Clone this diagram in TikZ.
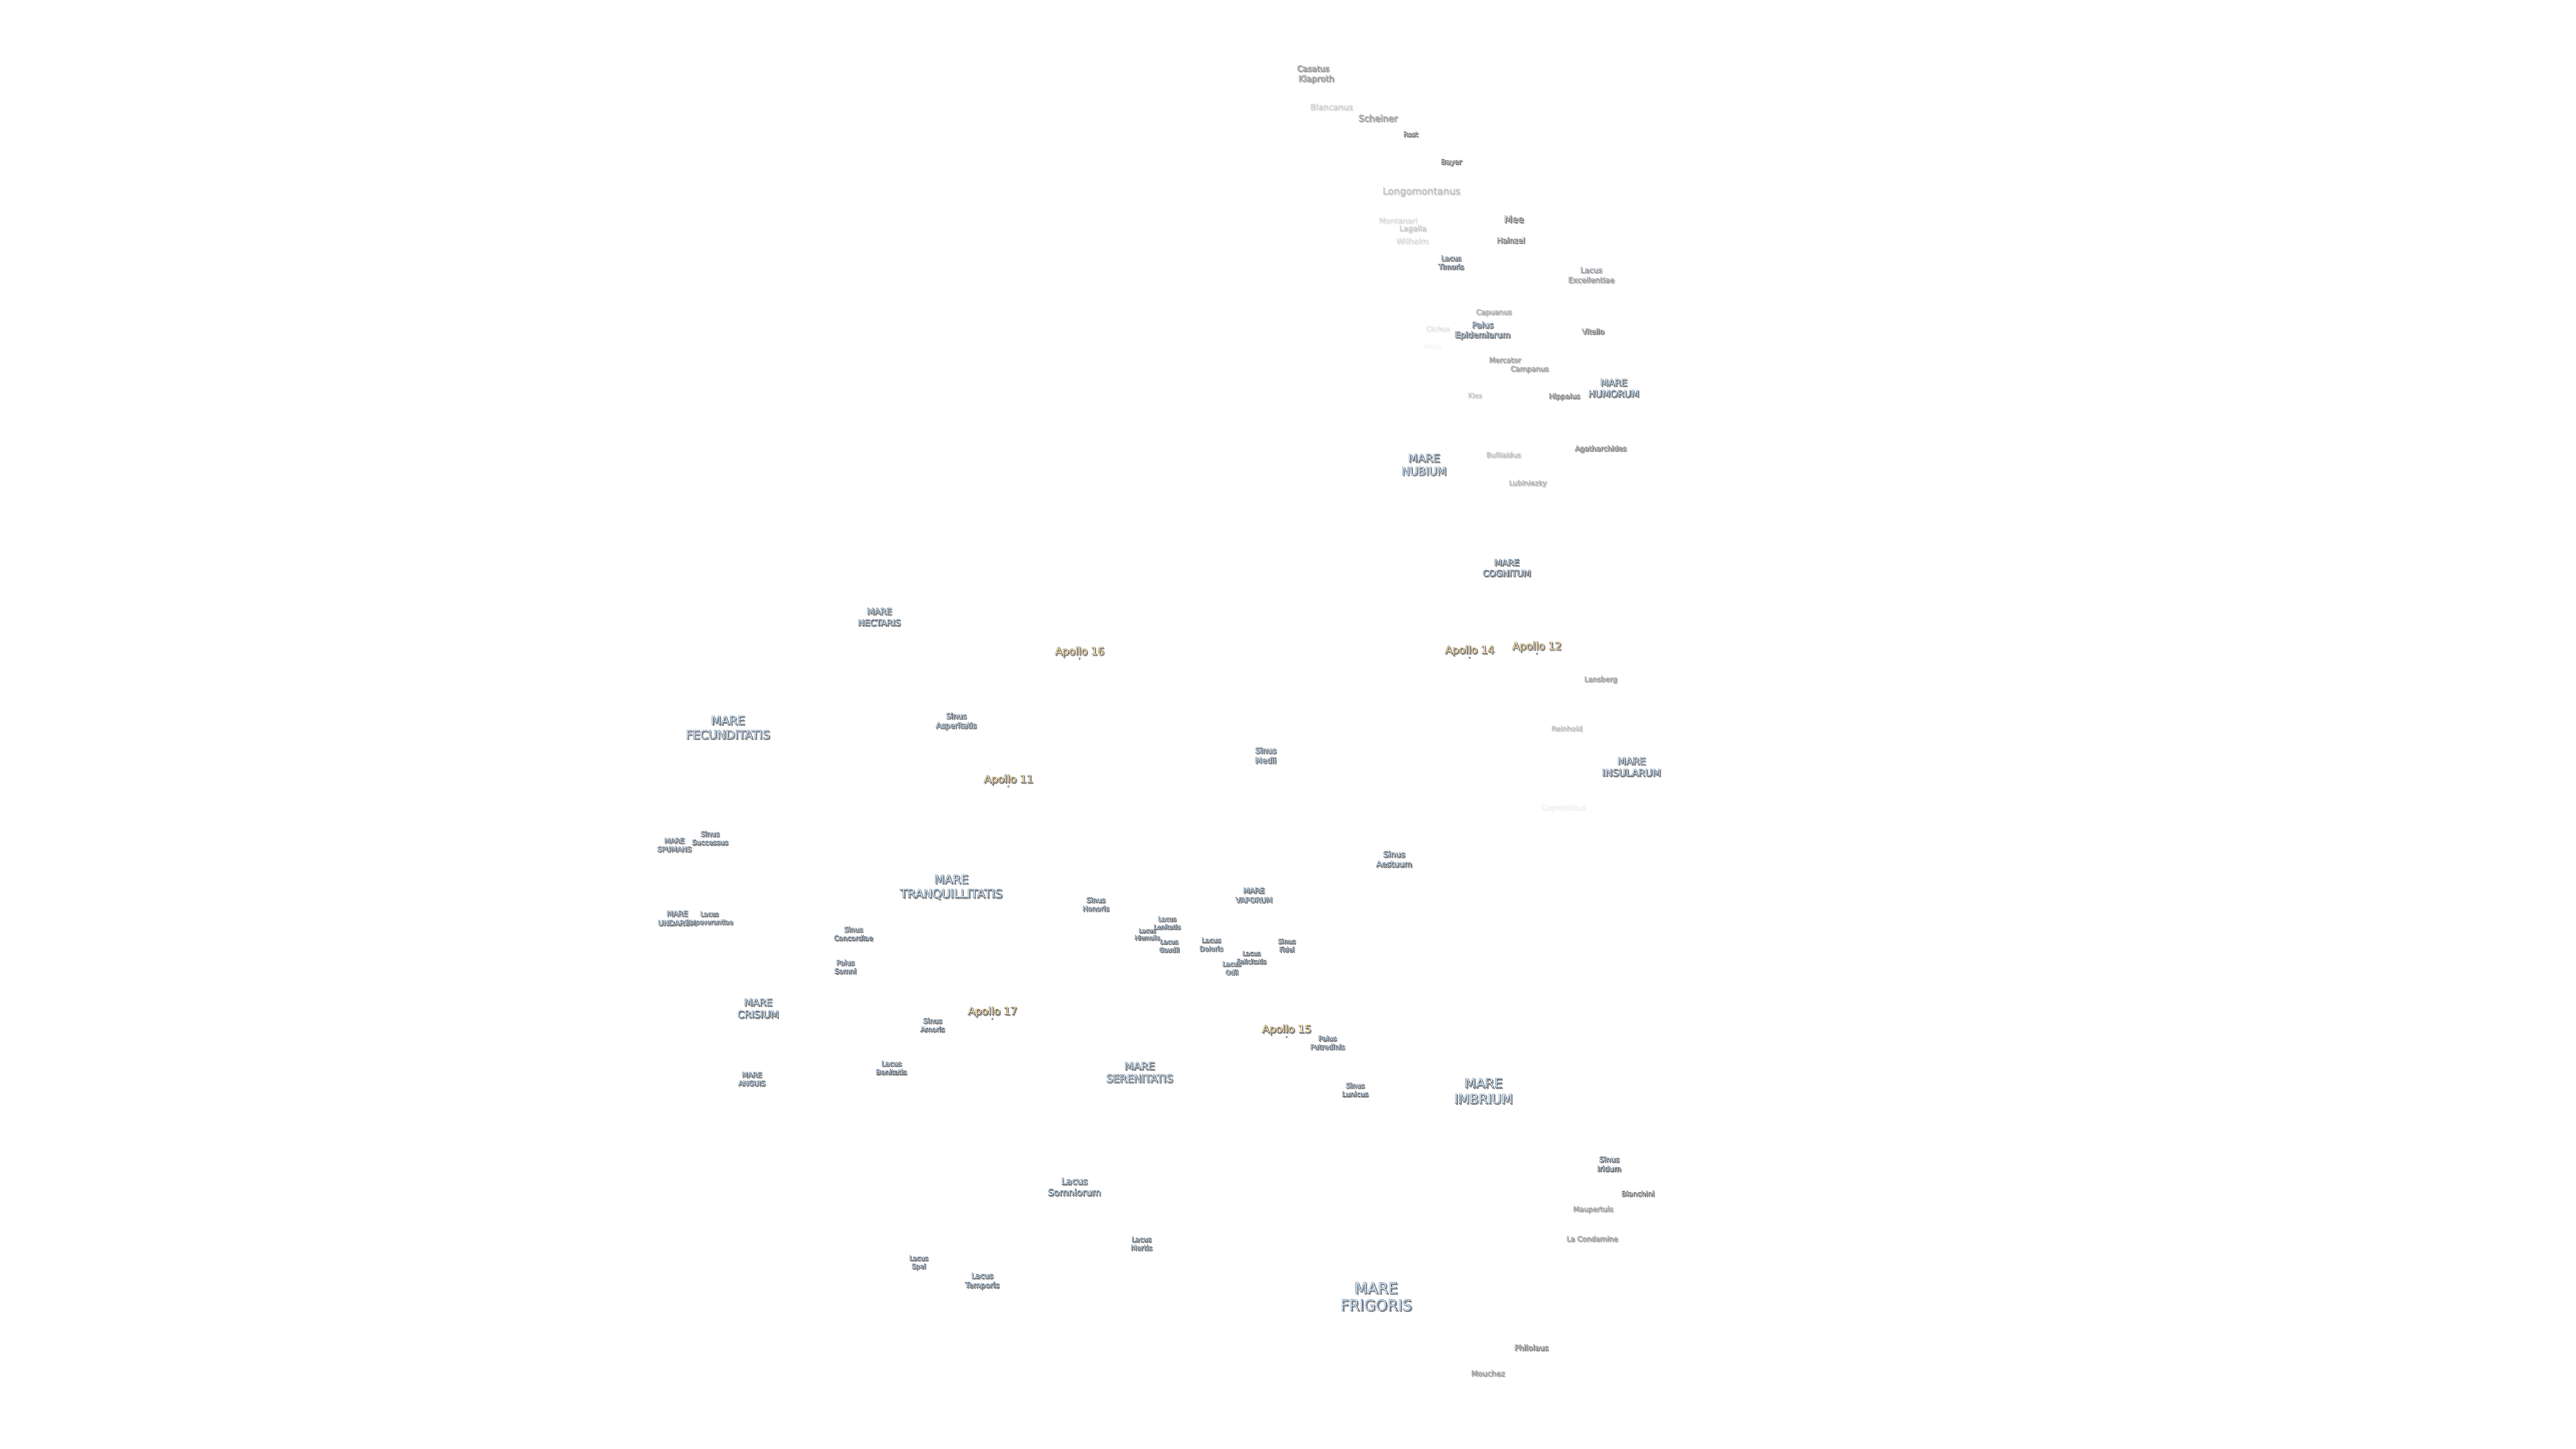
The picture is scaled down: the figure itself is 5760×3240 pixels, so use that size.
\documentclass[tikz,border=0pt]{standalone}
\usepackage{fontspec}
\setmainfont{DejaVu Sans}
\definecolor{marefill}{HTML}{C3DDF7}
\definecolor{apollofill}{HTML}{F7DCA6}
\definecolor{craterfill}{HTML}{F2F2F2}
\colorlet{lblfill}{marefill}
% one line of a label: an offset shade and a dark rim under the clean face
\newcommand\tl[1]{\leavevmode\rlap{\raisebox{-2.2pt}{\hbox{\kern2.2pt\textcolor{black!44}{\special{pdf:code 2 Tr 1.3 w}#1\special{pdf:code 0 Tr}}}}}\rlap{\textcolor{black!60}{\special{pdf:code 2 Tr 1.15 w}#1\special{pdf:code 0 Tr}}}\hbox{\textcolor{lblfill}{#1}}}
\tikzset{
  lbl/.style={inner sep=0pt,outer sep=0pt,align=center,text=black},
  sz/.style 2 args={font=\fontsize{#1}{#2}\selectfont},
  mare/.style={lbl,execute at begin node={\colorlet{lblfill}{marefill}}},
  apollo/.style={lbl,sz={23.5}{29},execute at begin node={\colorlet{lblfill}{apollofill}}},
  crater/.style={lbl,sz={16}{20},execute at begin node={\colorlet{lblfill}{craterfill}}},
  apdot/.style={circle,inner sep=0pt,minimum size=4pt,fill=apollofill,draw=black!65,line width=.8pt},
}
\begin{document}
\begin{tikzpicture}[x=1pt,y=-1pt]
\useasboundingbox (0,0) rectangle (5760,3240);
% far-side craters and small features at the upper right
\node[crater,sz={18}{22},opacity=.5] (casatus) at (2936,154) {\tl{Casatus}};
\node[crater,sz={19}{23},opacity=.5] (klaproth) at (2943,178) {\tl{Klaproth}};
\node[crater,sz={18.5}{23},opacity=.15] (blancanus) at (2977,240) {\tl{Blancanus}};
\node[crater,sz={20}{25},opacity=.45] (scheiner) at (3081,265) {\tl{Scheiner}};
\node[crater,sz={15}{19},opacity=.85] (rost) at (3154,301) {\tl{Rost}};
\node[crater,sz={16}{20},opacity=.85] (bayer) at (3245,364) {\tl{Bayer}};
\node[crater,sz={21.6}{27},opacity=.22] (longo) at (3178,430) {\tl{Longomontanus}};
\node[crater,sz={17}{21},opacity=.1] (montanari) at (3126,494) {\tl{Montanari}};
\node[crater,sz={17}{21},opacity=.17] (lagalla) at (3159,513) {\tl{Lagalla}};
\node[crater,sz={18}{22},opacity=.1] (wilhelm) at (3158,540) {\tl{Wilhelm}};
\node[crater,sz={21}{26},opacity=.85] (mee) at (3385,491) {\tl{Mee}};
\node[crater,sz={17}{21},opacity=.85] (hainzel) at (3378,538) {\tl{Hainzel}};
\node[mare,sz={15.5}{19}] (timoris) at (3244.5,588) {\tl{Lacus}\\\tl{Timoris}};
\node[mare,sz={17}{22},opacity=.4] (excellentiae) at (3558,616) {\tl{Lacus}\\\tl{Excellentiae}};
\node[crater,opacity=.33] (capuanus) at (3340,700) {\tl{Capuanus}};
\node[mare,sz={18.5}{22}] (epidemiarum) at (3315,740) {\tl{Palus}\\\tl{Epidemiarum}};
\node[crater,opacity=.08] (cichus) at (3215,736) {\tl{Cichus}};
\node[crater,sz={14.5}{18},opacity=.02] (weiss) at (3203,775) {\tl{Weiss}};
\node[crater,opacity=.85] (vitello) at (3562,742) {\tl{Vitello}};
\node[crater,opacity=.4] (mercator) at (3365,806) {\tl{Mercator}};
\node[crater,opacity=.4] (campanus) at (3420,827) {\tl{Campanus}};
\node[mare,sz={21}{25}] (humorum) at (3608,869) {\tl{MARE}\\\tl{HUMORUM}};
\node[crater,opacity=.6] (hippalus) at (3498,888) {\tl{Hippalus}};
\node[crater,sz={15}{19},opacity=.18] (kies) at (3298,885) {\tl{Kies}};
\node[mare,sz={24.8}{29}] (nubium) at (3184,1040) {\tl{MARE}\\\tl{NUBIUM}};
\node[crater,opacity=.22] (bullialdus) at (3362,1018) {\tl{Bullialdus}};
\node[crater,opacity=.65] (agatharchides) at (3579,1005) {\tl{Agatharchides}};
\node[crater,opacity=.28] (lubiniezky) at (3416,1082) {\tl{Lubiniezky}};
\node[mare,sz={19.5}{24}] (cognitum) at (3369,1271) {\tl{MARE}\\\tl{COGNITUM}};
% Apollo sites
\node[apollo] (apollo14) at (3286,1456) {\tl{Apollo 14}};
\node[apdot] (site14) at (3286.5,1471) {};
\node[apollo] (apollo12) at (3436.5,1447.5) {\tl{Apollo 12}};
\node[apdot] (site12) at (3437,1462) {};
\node[apollo] (apollo16) at (2414,1459) {\tl{Apollo 16}};
\node[apdot] (site16) at (2414,1473) {};
\node[apollo] (apollo11) at (2255,1745) {\tl{Apollo 11}};
\node[apdot] (site11) at (2255,1759) {};
\node[apollo] (apollo17) at (2219,2264) {\tl{Apollo 17}};
\node[apdot] (site17) at (2219,2279) {};
\node[apollo] (apollo15) at (2877,2304) {\tl{Apollo 15}};
\node[apdot] (site15) at (2877,2319) {};
% middle of the map
\node[crater,opacity=.42] (lansberg) at (3579,1521) {\tl{Lansberg}};
\node[crater,opacity=.22] (reinhold) at (3503.5,1630) {\tl{Reinhold}};
\node[mare,sz={22}{26}] (insularum) at (3648,1716) {\tl{MARE}\\\tl{INSULARUM}};
\node[crater,sz={18}{22},opacity=.04] (copernicus) at (3496,1808) {\tl{Copernicus}};
\node[mare,sz={19.4}{25}] (nectaris) at (1966,1381) {\tl{MARE}\\\tl{NECTARIS}};
\node[mare,sz={26.4}{32}] (fecunditatis) at (1627.5,1628) {\tl{MARE}\\\tl{FECUNDITATIS}};
\node[mare,sz={17}{21}] (asperitatis) at (2138,1614) {\tl{Sinus}\\\tl{Asperitatis}};
\node[mare,sz={17.5}{22}] (medii) at (2830,1690) {\tl{Sinus}\\\tl{Medii}};
\node[mare,sz={18}{22}] (aestuum) at (3117,1922) {\tl{Sinus}\\\tl{Aestuum}};
\node[mare,sz={15.5}{19}] (successus) at (1587.5,1875) {\tl{Sinus}\\\tl{Successus}};
\node[mare,sz={15.5}{19}] (spumans) at (1507.6,1890.5) {\tl{MARE}\\\tl{SPUMANS}};
\node[mare,sz={16.5}{21}] (undarum) at (1514,2054.5) {\tl{MARE}\\\tl{UNDARUM}};
\node[mare,sz={14}{18}] (perseverantiae) at (1586,2054) {\tl{Lacus}\\\tl{Perseverantiae}};
\node[mare,sz={15.5}{19}] (concordiae) at (1908,2089) {\tl{Sinus}\\\tl{Concordiae}};
\node[mare,sz={15.5}{19}] (somni) at (1890,2163) {\tl{Palus}\\\tl{Somni}};
\node[mare,sz={26.6}{32}] (tranquillitatis) at (2127,1985) {\tl{MARE}\\\tl{TRANQUILLITATIS}};
\node[mare,sz={15.5}{19}] (honoris) at (2450,2023) {\tl{Sinus}\\\tl{Honoris}};
\node[mare,sz={14}{18}] (lenitatis) at (2609.5,2065) {\tl{Lacus}\\\tl{Lenitatis}};
\node[mare,sz={13}{16}] (hiemalis) at (2565,2090) {\tl{Lacus}\\\tl{Hiemalis}};
\node[mare,sz={14}{18}] (gaudii) at (2614,2116) {\tl{Lacus}\\\tl{Gaudii}};
\node[mare,sz={15}{19}] (doloris) at (2708,2113) {\tl{Lacus}\\\tl{Doloris}};
\node[mare,sz={14}{18}] (felicitatis) at (2798,2142) {\tl{Lacus}\\\tl{Felicitatis}};
\node[mare,sz={14.5}{19}] (odii) at (2754,2166) {\tl{Lacus}\\\tl{Odii}};
\node[mare,sz={16.5}{21}] (vaporum) at (2803.5,2003) {\tl{MARE}\\\tl{VAPORUM}};
\node[mare,sz={14.5}{18}] (fidei) at (2877,2115) {\tl{Sinus}\\\tl{Fidei}};
% lower part
\node[mare,sz={22}{27}] (crisium) at (1695,2256) {\tl{MARE}\\\tl{CRISIUM}};
\node[mare,sz={15.5}{19}] (amoris) at (2085,2293) {\tl{Sinus}\\\tl{Amoris}};
\node[mare,sz={15.5}{19}] (anguis) at (1681,2414) {\tl{MARE}\\\tl{ANGUIS}};
\node[mare,sz={15.5}{19}] (bonitatis) at (1993,2389) {\tl{Lacus}\\\tl{Bonitatis}};
\node[mare,sz={23.7}{28}] (serenitatis) at (2548,2399) {\tl{MARE}\\\tl{SERENITATIS}};
\node[mare,sz={15.5}{19}] (putredinis) at (2968,2332.5) {\tl{Palus}\\\tl{Putredinis}};
\node[mare,sz={15.5}{19}] (lunicus) at (3030,2438) {\tl{Sinus}\\\tl{Lunicus}};
\node[mare,sz={29.6}{35}] (imbrium) at (3317,2441) {\tl{MARE}\\\tl{IMBRIUM}};
\node[mare,sz={20.5}{25}] (somniorum) at (2402,2655) {\tl{Lacus}\\\tl{Somniorum}};
\node[mare,sz={15.5}{19}] (mortis) at (2552,2782) {\tl{Lacus}\\\tl{Mortis}};
\node[mare,sz={14.5}{18}] (spei) at (2054,2825) {\tl{Lacus}\\\tl{Spei}};
\node[mare,sz={17}{21}] (temporis) at (2196,2866) {\tl{Lacus}\\\tl{Temporis}};
\node[mare,sz={33.6}{38}] (frigoris) at (3077,2901) {\tl{MARE}\\\tl{FRIGORIS}};
\node[crater,sz={17}{21},opacity=.45] (mouchez) at (3327,3072) {\tl{Mouchez}};
\node[mare,sz={16.5}{21}] (iridum) at (3598,2604) {\tl{Sinus}\\\tl{Iridum}};
\node[crater,opacity=.8] (bianchini) at (3662,2670) {\tl{Bianchini}};
\node[crater,opacity=.4] (maupertuis) at (3562,2706) {\tl{Maupertuis}};
\node[crater,opacity=.45] (condamine) at (3560,2771) {\tl{La Condamine}};
\node[crater,sz={17}{21},opacity=.7] (philolaus) at (3424,3014.5) {\tl{Philolaus}};
\end{tikzpicture}
\end{document}
